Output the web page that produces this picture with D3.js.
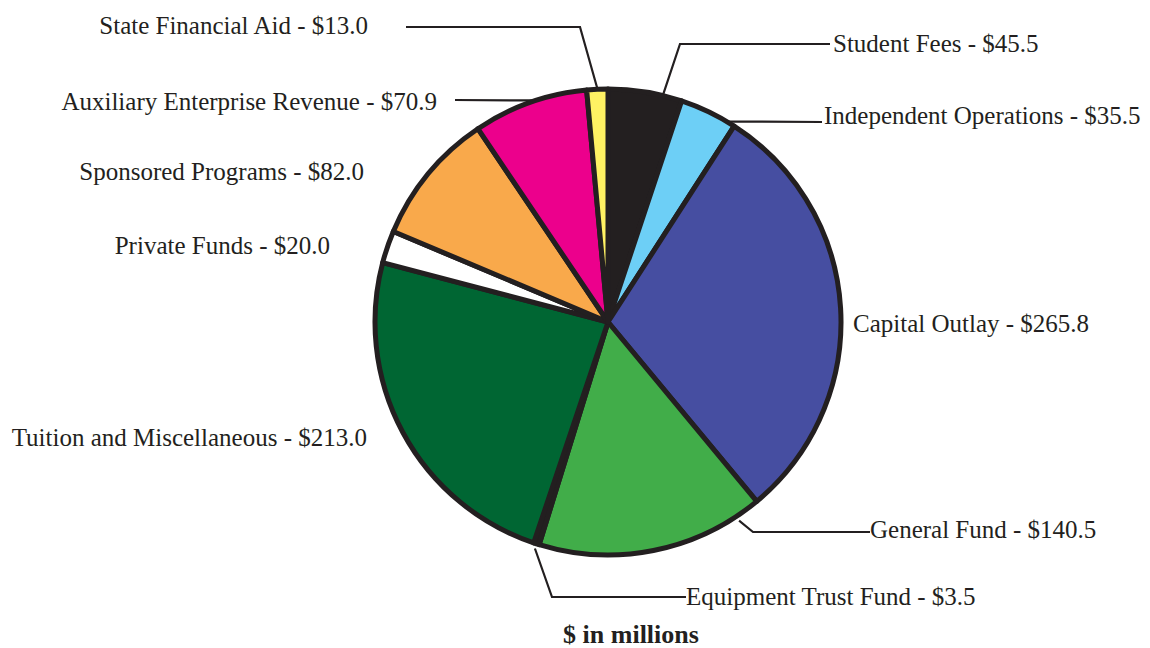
<!DOCTYPE html>
<html>
<head>
<meta charset="utf-8">
<script src="https://cdn.jsdelivr.net/npm/d3@7"></script>
<style>
  body { margin: 0; background: #fff; }
  text { font-family: "Liberation Serif", "Times New Roman", serif; fill: #231f20; }
</style>
</head>
<body>
<script>
// slices, clockwise from 12 o'clock
const categories = ["Student Fees", "Independent Operations", "Capital Outlay", "General Fund",
    "Equipment Trust Fund", "Tuition and Miscellaneous", "Private Funds", "Sponsored Programs",
    "Auxiliary Enterprise Revenue", "State Financial Aid"];
const values = [45.5, 35.5, 265.8, 140.5, 3.5, 213.0, 20.0, 82.0, 70.9, 13.0];
const colors = ["#231f20", "#6dcff6", "#464ea1", "#41ad49", "#231f20",
    "#006633", "#ffffff", "#f9a94b", "#ec008c", "#fff263"];
const unitLabel = "$ in millions";

// label placement: text anchor point, anchor side, leader (t = where on slice, pts = elbow/end)
const layout = [
    { x: 833, y: 43, anchor: "start", t: 0.74, r: 234, pts: [[680, 44], [830, 44]] },
    { x: 824, y: 115, anchor: "start", t: 0.88, r: 234, pts: [[822, 122]] },
    { x: 853, y: 323, anchor: "start" },
    { x: 870, y: 529, anchor: "start", t: 0.11, r: 238, pts: [[753, 532], [870, 532]] },
    { x: 686, y: 596, anchor: "start", t: 0.5, r: 238, pts: [[552, 597], [686, 597]] },
    { x: 367, y: 437, anchor: "end" },
    { x: 330, y: 245, anchor: "end" },
    { x: 364, y: 171, anchor: "end" },
    { x: 437, y: 101, anchor: "end", t: 0.53, r: 234, pts: [[455, 100]] },
    { x: 368, y: 25, anchor: "end", t: 0.5, r: 234, pts: [[580, 27], [406, 27]] }
];

const width = 1150, height = 648,
    cx = 608, cy = 322, radius = 233;

const svg = d3.select("body").append("svg")
    .attr("width", width)
    .attr("height", height);

const g = svg.append("g")
    .attr("transform", `translate(${cx}, ${cy})`);

const pie = d3.pie().sort(null).value(d => d);
const arc = d3.arc().innerRadius(0).outerRadius(radius);
const arcsData = pie(values);

g.selectAll(".slice")
    .data(arcsData)
    .enter().append("path")
    .attr("class", "slice")
    .attr("d", arc)
    .attr("fill", (d, i) => colors[i])
    .attr("stroke", "#231f20")
    .attr("stroke-width", 5)
    .attr("stroke-linejoin", "round");

// leader lines
function onArc(d, t, r) {
    const a = d.startAngle + (d.endAngle - d.startAngle) * t;
    return [cx + r * Math.sin(a), cy - r * Math.cos(a)];
}

const line = d3.line();
arcsData.forEach((d, i) => {
    const L = layout[i];
    if (!L.pts) return;
    const pts = [onArc(d, L.t, L.r)].concat(L.pts);
    svg.append("path")
        .attr("d", line(pts))
        .attr("fill", "none")
        .attr("stroke", "#231f20")
        .attr("stroke-width", 2.2);
});

svg.selectAll(".lbl")
    .data(arcsData)
    .enter().append("text")
    .attr("class", "lbl")
    .attr("x", (d, i) => layout[i].x)
    .attr("y", (d, i) => layout[i].y)
    .attr("dy", "0.35em")
    .attr("text-anchor", (d, i) => layout[i].anchor)
    .style("font-size", "25px")
    .text((d, i) => `${categories[i]} - $${values[i].toFixed(1)}`);

svg.append("text")
    .attr("x", 631)
    .attr("y", 643)
    .attr("text-anchor", "middle")
    .style("font-size", "26px")
    .style("font-weight", "bold")
    .text(unitLabel);
</script>
</body>
</html>
